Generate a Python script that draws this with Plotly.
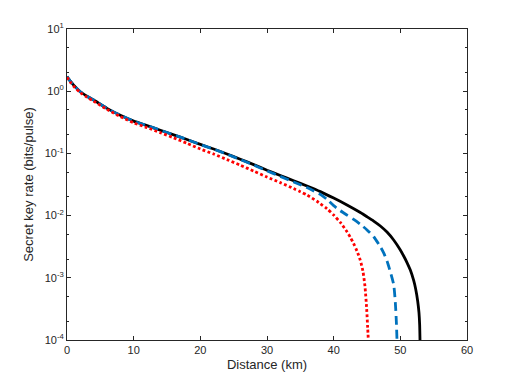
import plotly.graph_objects as go

# Distance (km) and secret key rate (bits/pulse)
dist_solid = [0, 0.5, 1, 2, 3, 4, 6, 8, 10, 12, 14, 16, 18, 20, 22, 24, 26, 28, 30, 32, 34, 36, 38, 40, 42, 44, 45, 46, 47, 48, 49, 50, 50.5, 51, 51.5, 52, 52.3, 52.6, 52.8, 52.9, 52.95]
rate_solid = [1.72, 1.45, 1.25, 0.98, 0.83, 0.72, 0.53, 0.41, 0.33, 0.28, 0.236, 0.199, 0.167, 0.1396, 0.1175, 0.0977, 0.0804, 0.0661, 0.0537, 0.0442, 0.0363, 0.0299, 0.0243, 0.0191, 0.0148, 0.0112, 0.00959, 0.00818, 0.00681, 0.00545, 0.00405, 0.0028, 0.00224, 0.00176, 0.00133, 0.000906, 0.000661, 0.000424, 0.000272, 0.000174, 0.0001]

dist_dash = [0, 0.5, 1, 2, 3, 4, 6, 8, 10, 12, 14, 16, 18, 20, 22, 24, 26, 28, 30, 32, 34, 36, 38, 39, 40, 41, 42, 43, 44, 45, 46, 47, 47.5, 48, 48.5, 49, 49.25, 49.4, 49.5]
rate_dash = [1.72, 1.45, 1.25, 0.98, 0.83, 0.72, 0.53, 0.41, 0.33, 0.28, 0.236, 0.199, 0.167, 0.139, 0.117, 0.097, 0.0795, 0.065, 0.0525, 0.0427, 0.0347, 0.0282, 0.0219, 0.0182, 0.01445, 0.012, 0.0102, 0.0087, 0.00724, 0.00589, 0.00457, 0.00316, 0.00251, 0.00186, 0.00125, 0.00078, 0.0004, 0.0002, 0.0001]

dist_dot = [0, 0.5, 1, 2, 3, 4, 6, 8, 10, 12, 14, 16, 18, 20, 22, 24, 26, 28, 30, 32, 34, 35, 36, 37.5, 38, 39, 40, 41, 42, 42.5, 43, 43.5, 44, 44.4, 44.7, 44.95, 45.1, 45.2]
rate_dot = [1.68, 1.4, 1.2, 0.95, 0.8, 0.69, 0.51, 0.39, 0.31, 0.26, 0.215, 0.178, 0.145, 0.1175, 0.0977, 0.0794, 0.0646, 0.0519, 0.0417, 0.0339, 0.0272, 0.0242, 0.0214, 0.017, 0.0155, 0.0129, 0.0102, 0.00776, 0.0055, 0.00447, 0.00355, 0.00269, 0.00191, 0.00126, 0.00072, 0.000316, 0.000158, 0.0001]

x_ticks = [0, 10, 20, 30, 40, 50, 60]
y_tickvals = [1e-4, 1e-3, 1e-2, 1e-1, 1e0, 1e1]
y_ticktext = ["10<sup>-4</sup>", "10<sup>-3</sup>", "10<sup>-2</sup>", "10<sup>-1</sup>", "10<sup>0</sup>", "10<sup>1</sup>"]

FONT = "Liberation Sans, Arial, Helvetica"
INK = "#262626"

fig = go.Figure()
fig.add_trace(go.Scatter(x=dist_solid, y=rate_solid, mode="lines",
                         line=dict(color="black", width=2.8, shape="spline", smoothing=0.6)))
fig.add_trace(go.Scatter(x=dist_dash, y=rate_dash, mode="lines",
                         line=dict(color="#0072BD", width=2.8, dash="9px,5px", shape="spline", smoothing=0.6)))
fig.add_trace(go.Scatter(x=dist_dot, y=rate_dot, mode="lines",
                         line=dict(color="#FF0000", width=2.8, dash="2.8px,2.4px", shape="spline", smoothing=0.6)))

axis_common = dict(showgrid=False, zeroline=False, showline=True, linecolor=INK, linewidth=1,
                   mirror="allticks", ticks="inside", ticklen=4, tickcolor=INK, automargin=False,
                   tickfont=dict(family=FONT, size=11, color=INK))

fig.update_xaxes(range=[0, 60], tickvals=x_ticks,
                 title=dict(text="Distance (km)", standoff=4, font=dict(family=FONT, size=13, color=INK)),
                 **axis_common)
fig.update_yaxes(type="log", range=[-4, 1], tickvals=y_tickvals, ticktext=y_ticktext,
                 title=dict(text="Secret key rate (bits/pulse)", standoff=8,
                            font=dict(family=FONT, size=13, color=INK)),
                 minor=dict(ticks="inside", ticklen=2, tickcolor=INK, showgrid=False),
                 **axis_common)

# page body adds an 8px margin, so the figure is offset by 8px in both directions
fig.update_layout(width=518, height=382, showlegend=False,
                  margin=dict(l=59, r=59, t=21, b=50),
                  plot_bgcolor="white", paper_bgcolor="white")
fig.write_html("out.html")
